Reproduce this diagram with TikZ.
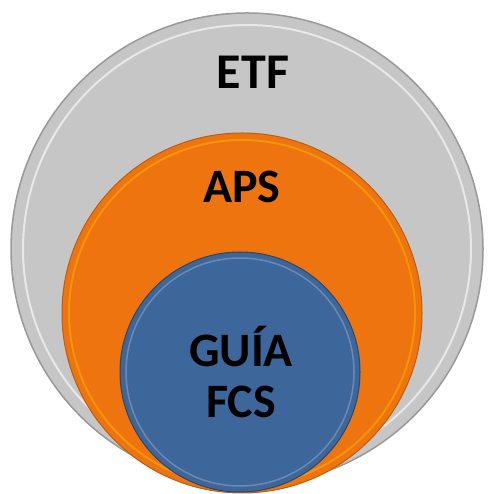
\documentclass[tikz,border=0pt]{standalone}
\usepackage{fontspec}
\setmainfont{Carlito}
\definecolor{etfgray}{HTML}{C6C6C6}
\definecolor{apsorange}{HTML}{EE7410}
\definecolor{guiablue}{HTML}{3D669A}
\tikzset{
  disc/.style={circle,inner sep=0pt,minimum size=#1,draw},
  label/.style={font=\bfseries\fontsize{48}{51}\selectfont,text=black,align=center}
}

\begin{document}
\begin{tikzpicture}[x=1pt,y=1pt]
 \useasboundingbox (0,0) rectangle (492,494);
 \node[disc=472pt,fill=etfgray,draw=gray!80,line width=1.5pt] (etf) at (247,245) {};
 \draw[white,line width=2pt,opacity=0.6] (etf.center) circle (224);
 \node[disc=360pt,fill=apsorange,draw=apsorange!80!black,line width=1pt] (aps) at (242,181) {};
 \draw[orange!60!yellow,line width=2pt,opacity=0.5] (aps.center) circle (173);
 \node[disc=240pt,fill=guiablue,draw=guiablue!70!black,line width=1pt] (guia) at (240,122) {};
 \draw[guiablue!60!white,line width=1.5pt,opacity=0.6] (guia.center) circle (114);
 \node[label,font=\bfseries\fontsize{50}{52}\selectfont] (etftext) at (253,422) {ETF};
 \node[label] (apstext) at (242,307) {APS};
 \node[label] (guiatext) at (241,122) {GUÍA\\FCS};
\end{tikzpicture}
\end{document}
